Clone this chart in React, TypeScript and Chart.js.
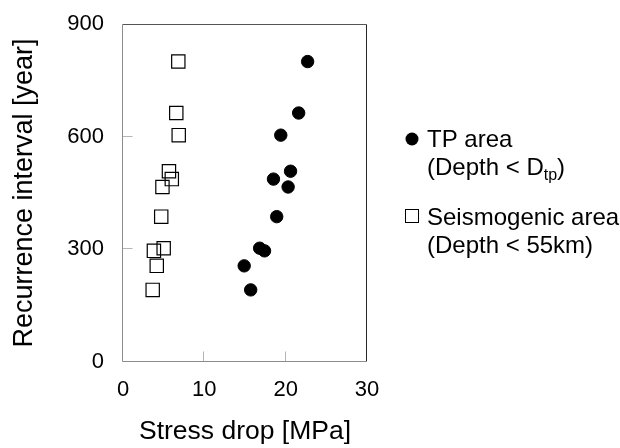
import { useEffect, useRef } from 'react';
import { Chart, registerables } from 'chart.js';

Chart.register(...registerables);

// ---- data ----
const recurrenceYears = [800, 663, 604, 508, 487, 466, 387, 303, 296, 256, 192];
const stressDropTP = [22.7, 21.6, 19.4, 20.6, 18.5, 20.3, 18.9, 16.8, 17.4, 14.9, 15.7];
const stressDropSeismogenic = [6.8, 6.55, 6.85, 5.65, 6.0, 4.85, 4.7, 5.0, 3.8, 4.15, 3.65];

const xTickValues = [0, 10, 20, 30];
const yTickValues = [0, 300, 600, 900];

const xTitle = 'Stress drop [MPa]';
const yTitle = 'Recurrence interval [year]';
const tpLabel = 'TP area';
const tpSubLabel = ['(Depth < D', 'tp', ')'];
const seisLabel = 'Seismogenic area';
const seisSubLabel = '(Depth < 55km)';

const FONT = "'Liberation Sans', Arial, Helvetica, sans-serif";

const framePlugin = {
  id: 'frameTicks',
  beforeDatasetsDraw(chart: any) {
    const { ctx, chartArea: a, scales } = chart;
    const L = Math.round(a.left) - 0.5;
    const R = Math.round(a.right) - 0.5;
    const T = Math.round(a.top) + 0.5;
    const B = Math.round(a.bottom) - 0.5;
    ctx.save();
    ctx.lineWidth = 1;
    // inward tick marks
    ctx.strokeStyle = '#b5b5b5';
    for (const t of scales.x.ticks) {
      if (t.value === scales.x.min || t.value === scales.x.max) continue;
      const px = Math.round(scales.x.getPixelForValue(t.value)) - 0.5;
      ctx.beginPath();
      ctx.moveTo(px, B);
      ctx.lineTo(px, B - 10);
      ctx.stroke();
    }
    for (const t of scales.y.ticks) {
      if (t.value === scales.y.min || t.value === scales.y.max) continue;
      const py = Math.round(scales.y.getPixelForValue(t.value)) - 0.5;
      ctx.beginPath();
      ctx.moveTo(L, py);
      ctx.lineTo(L + 10, py);
      ctx.stroke();
    }
    // frame
    const seg = (x1: number, y1: number, x2: number, y2: number, c: string) => {
      ctx.strokeStyle = c;
      ctx.beginPath();
      ctx.moveTo(x1, y1);
      ctx.lineTo(x2, y2);
      ctx.stroke();
    };
    seg(L, T, R, T, '#555555');
    seg(R, T, R, B, '#262626');
    seg(L, B, R, B, '#8c8c8c');
    seg(L, T, L, B, '#8c8c8c');
    ctx.restore();
  },
};

const legendPlugin = {
  id: 'customLegend',
  afterDraw(chart: any) {
    const { ctx } = chart;
    ctx.save();
    ctx.fillStyle = '#000';
    ctx.strokeStyle = '#000';
    ctx.textBaseline = 'alphabetic';
    ctx.textAlign = 'left';
    const main = `24px ${FONT}`;
    const sub = `16px ${FONT}`;
    const tx = 427;

    // TP area
    ctx.beginPath();
    ctx.arc(412, 139, 6.5, 0, Math.PI * 2);
    ctx.fill();
    ctx.font = main;
    ctx.fillText(tpLabel, tx, 147);
    let x = tx;
    ctx.fillText(tpSubLabel[0], x, 175);
    x += ctx.measureText(tpSubLabel[0]).width;
    ctx.font = sub;
    ctx.fillText(tpSubLabel[1], x, 180);
    x += ctx.measureText(tpSubLabel[1]).width;
    ctx.font = main;
    ctx.fillText(tpSubLabel[2], x, 175);

    // Seismogenic area
    ctx.lineWidth = 1;
    ctx.strokeRect(405.5, 209.5, 13, 13);
    ctx.fillText(seisLabel, tx, 225);
    ctx.fillText(seisSubLabel, tx, 253);
    ctx.restore();
  },
};

export default function App() {
  const canvasRef = useRef<HTMLCanvasElement | null>(null);

  useEffect(() => {
    const canvas = canvasRef.current;
    if (!canvas) return;
    const tpData = recurrenceYears.map((y, i) => ({ x: stressDropTP[i], y }));
    const seisData = recurrenceYears.map((y, i) => ({ x: stressDropSeismogenic[i], y }));

    const chart = new Chart(canvas, {
      type: 'scatter',
      data: {
        datasets: [
          {
            label: tpLabel,
            data: tpData,
            pointStyle: 'circle',
            pointRadius: 6.2,
            pointHoverRadius: 6.2,
            backgroundColor: '#000',
            borderColor: '#000',
            borderWidth: 1,
          },
          {
            label: seisLabel,
            data: seisData,
            pointStyle: 'rect',
            pointRadius: 9.4,
            pointHoverRadius: 9.4,
            backgroundColor: 'rgba(0,0,0,0)',
            borderColor: '#000',
            borderWidth: 1.2,
          },
        ],
      },
      options: {
        responsive: false,
        animation: false,
        devicePixelRatio: 1,
        events: [],
        layout: { padding: { left: 0, top: 24, right: 253, bottom: 0 } },
        plugins: {
          legend: { display: false },
          tooltip: { enabled: false },
        },
        scales: {
          x: {
            type: 'linear',
            min: xTickValues[0],
            max: xTickValues[xTickValues.length - 1],
            afterBuildTicks: (scale: any) => {
              scale.ticks = xTickValues.map((v) => ({ value: v }));
            },
            afterFit: (scale: any) => {
              scale.height = 86;
              scale.paddingLeft = 0;
              scale.paddingRight = 0;
            },
            grid: { display: false, drawTicks: false },
            border: { display: false },
            ticks: {
              color: '#000',
              padding: 15,
              font: { family: FONT, size: 22 },
            },
            title: {
              display: true,
              text: xTitle,
              color: '#000',
              font: { family: FONT, size: 26.5 },
              padding: { top: 0, bottom: 0 },
            },
          },
          y: {
            type: 'linear',
            min: yTickValues[0],
            max: yTickValues[yTickValues.length - 1],
            afterBuildTicks: (scale: any) => {
              scale.ticks = yTickValues.map((v) => ({ value: v }));
            },
            afterFit: (scale: any) => {
              scale.width = 123;
              scale.paddingTop = 0;
              scale.paddingBottom = 0;
            },
            grid: { display: false, drawTicks: false },
            border: { display: false },
            ticks: {
              color: '#000',
              padding: 19,
              font: { family: FONT, size: 22 },
            },
            title: {
              display: true,
              text: yTitle,
              color: '#000',
              font: { family: FONT, size: 27 },
              padding: { top: 8, bottom: 0 },
            },
          },
        },
      },
      plugins: [framePlugin, legendPlugin],
    } as any);

    return () => chart.destroy();
  }, []);

  return (
    <div style={{ position: 'fixed', left: 0, top: 0, width: 620, height: 448, background: '#fff' }}>
      <canvas ref={canvasRef} width={620} height={448} style={{ display: 'block' }} />
    </div>
  );
}
